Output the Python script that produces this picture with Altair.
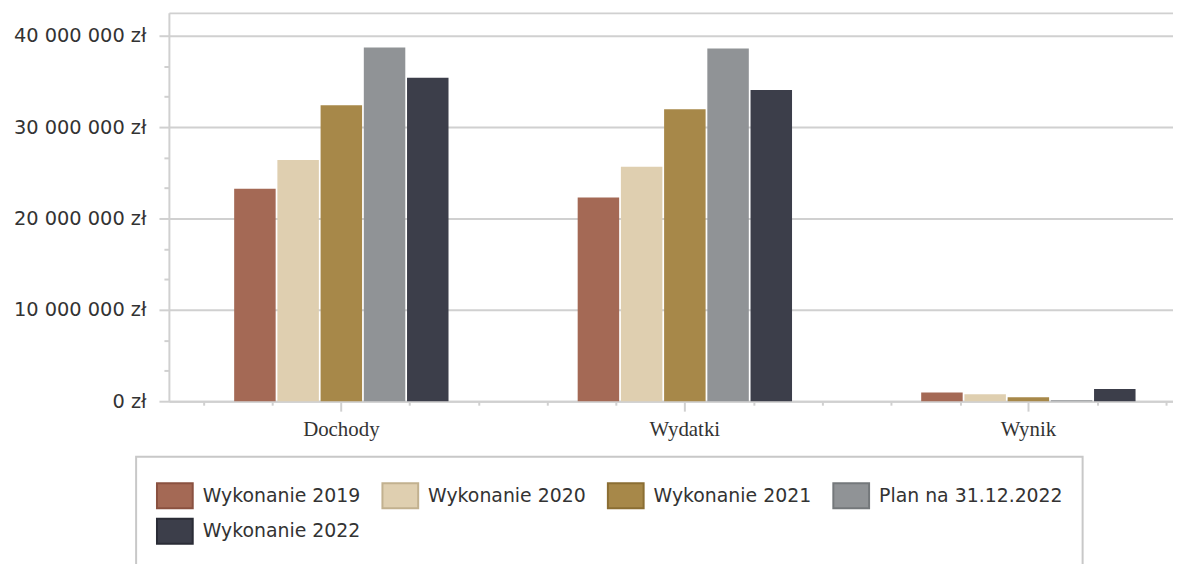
import altair as alt
import pandas as pd

# ---- data ----
categories = ["Dochody", "Wydatki", "Wynik"]
series = ["Wykonanie 2019", "Wykonanie 2020", "Wykonanie 2021",
          "Plan na 31.12.2022", "Wykonanie 2022"]
dochody = [23260000, 26400000, 32400000, 38700000, 35400000]
wydatki = [22300000, 25650000, 31960000, 38600000, 34060000]
wynik = [960000, 750000, 440000, 100000, 1340000]

fill_colors = ["#A46955", "#DFCFB0", "#A78849", "#909396", "#3C3E4A"]
stroke_colors = ["#8A5140", "#C2B18F", "#8B6E33", "#74787B", "#2A2C36"]

y_major = [0, 10000000, 20000000, 30000000, 40000000, 42500000]
y_minor = [3333333, 6666667, 13333333, 16666667, 23333333, 26666667,
           33333333, 36666667]
x_minor = [0.1, 0.3, 0.7, 0.9, 1.1, 1.3, 1.7, 1.9, 2.1, 2.3, 2.7, 2.9]

rows = []
for cat, vals in zip(categories, [dochody, wydatki, wynik]):
    for s, v in zip(series, vals):
        rows.append({"kategoria": cat, "seria": s, "wartosc": v})
df = pd.DataFrame(rows)

Y_DOMAIN = [0, 42500000]
X_RANGE = [0, 1039]
GRID = "#d0d0d0"
TEXT = "#333333"

legend = alt.Legend(
    orient="none", legendX=-33, legendY=447, direction="horizontal",
    columns=4, title=None,
    symbolType="M-1,-0.7H1V0.7H-1Z", symbolSize=1296, symbolStrokeWidth=2,
    labelFont="DejaVu Sans", labelFontSize=19, labelColor=TEXT,
    labelOffset=9, labelLimit=400, columnPadding=18, rowPadding=0,
    padding=20, strokeColor="#c8c8c8", fillColor="white",
)

label_expr = ("datum.value > 41000000 ? '' : "
              "replace(format(datum.value, ','), regexp(',', 'g'), ' ') + ' zł'")

bars = alt.Chart(df).mark_bar(strokeWidth=0).encode(
    x=alt.X("kategoria:N", sort=categories, title=None,
            scale=alt.Scale(range=X_RANGE, paddingInner=0.376, paddingOuter=0.19),
            axis=alt.Axis(orient="bottom", labelAngle=0, labelFont="Liberation Serif",
                          labelFontSize=21, labelColor=TEXT, labelPadding=8,
                          tickSize=10, tickWidth=2, tickColor=GRID,
                          domain=False, grid=False)),
    xOffset=alt.XOffset("seria:N", sort=series,
                        scale=alt.Scale(paddingInner=0.04, paddingOuter=0)),
    y=alt.Y("wartosc:Q", title=None,
            scale=alt.Scale(domain=Y_DOMAIN, nice=False, zero=True),
            axis=alt.Axis(orient="left", values=y_major, labelExpr=label_expr,
                          tickSize=10, tickWidth=2, tickColor=GRID,
                          tickOpacity={"condition": {"test": "datum.value > 41000000", "value": 0}, "value": 1},
                          grid=True, gridColor=GRID, gridWidth=2,
                          domain=True, domainColor=GRID, domainWidth=2,
                          labelFont="DejaVu Sans", labelFontSize=19.5,
                          labelColor=TEXT, labelPadding=13)),
    color=alt.Color("seria:N", sort=series,
                    scale=alt.Scale(domain=series, range=fill_colors), legend=legend),
    stroke=alt.Stroke("seria:N", sort=series,
                      scale=alt.Scale(domain=series, range=stroke_colors), legend=legend),
)

minor_x = alt.Chart(pd.DataFrame({"pozycja": x_minor})).mark_rule(opacity=0).encode(
    x=alt.X("pozycja:Q", title=None,
            scale=alt.Scale(domain=[0, 3], range=X_RANGE, nice=False, zero=False),
            axis=alt.Axis(orient="bottom", values=x_minor, labels=False,
                          tickSize=4, tickWidth=2, tickColor=GRID,
                          domain=True, domainColor=GRID, domainWidth=2, grid=False)),
)

minor_y = alt.Chart(pd.DataFrame({"poziom": y_minor})).mark_rule(opacity=0).encode(
    y=alt.Y("poziom:Q", title=None,
            scale=alt.Scale(domain=Y_DOMAIN, nice=False, zero=True),
            axis=alt.Axis(orient="left", values=y_minor, labels=False,
                          tickSize=5, tickWidth=2, tickColor=GRID,
                          domain=False, grid=False)),
)

chart = alt.layer(bars, minor_x, minor_y).resolve_scale(
    x="independent", y="independent"
).properties(
    width=1011, height=391,
    autosize=alt.AutoSizeParams(type="none"),
    padding={"left": 162, "top": 3, "right": 0, "bottom": 162},
    background="white",
).configure_view(stroke=None).configure_legend(strokeWidth=2)

chart.save("out.html", embed_options={"renderer": "svg", "actions": False})
